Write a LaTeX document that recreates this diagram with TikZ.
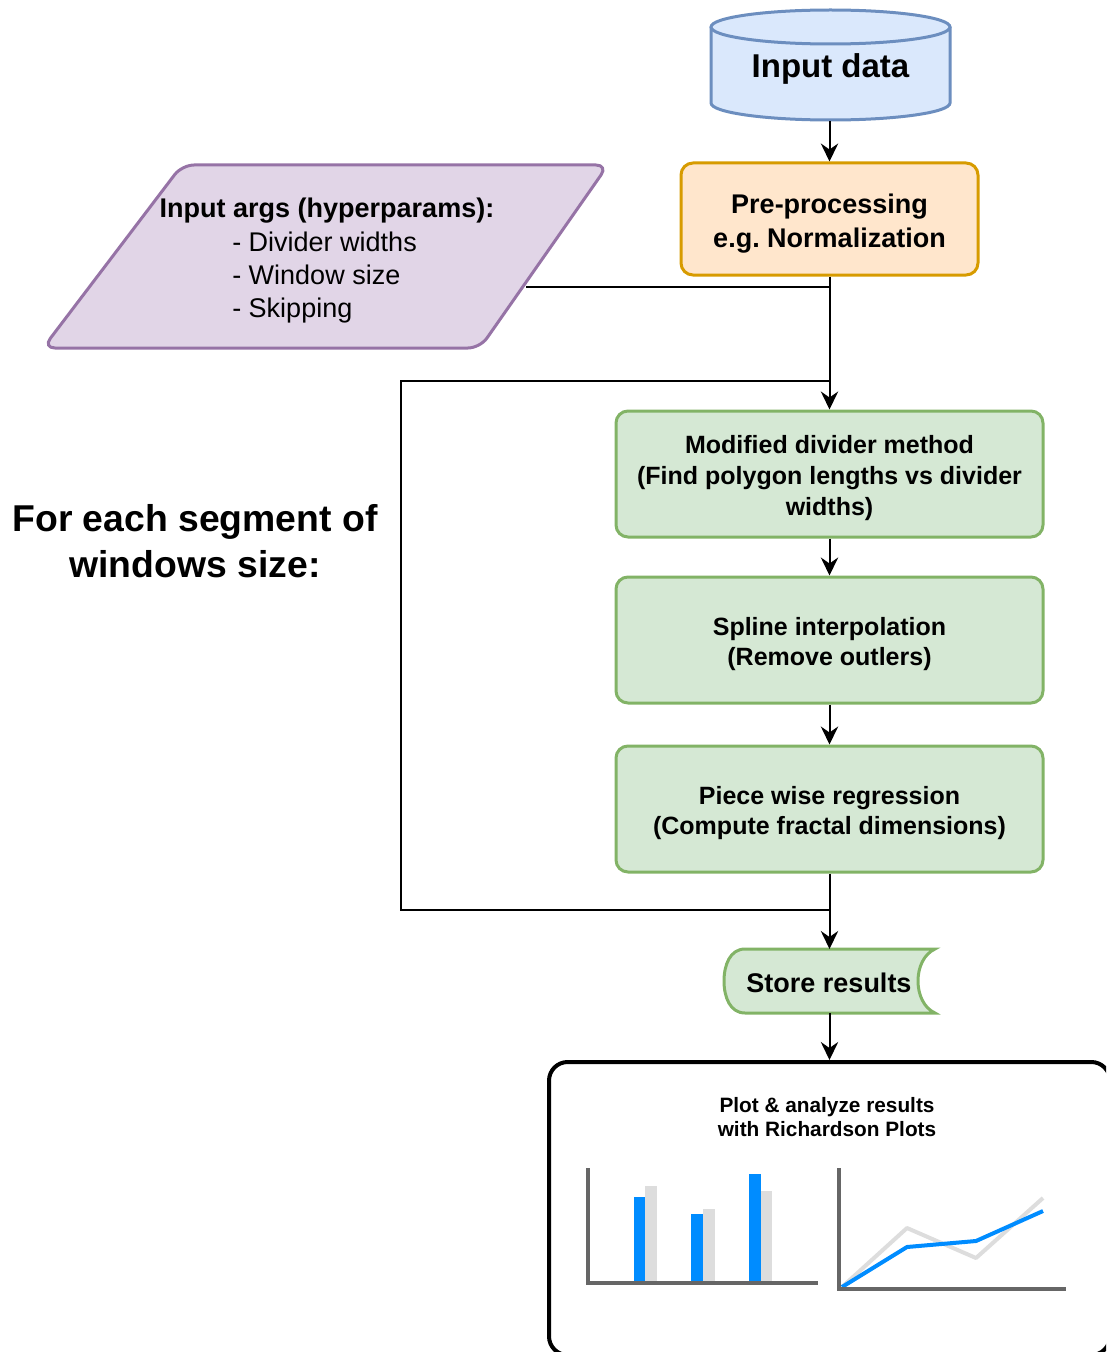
\documentclass[tikz,border=0pt]{standalone}
\usepackage{fontspec}
\setmainfont{Liberation Sans}
\usetikzlibrary{arrows.meta,fit}
\definecolor{bluefill}{HTML}{DAE8FC}
\definecolor{blueline}{HTML}{6C8EBF}
\definecolor{orgfill}{HTML}{FFE6CC}
\definecolor{orgline}{HTML}{D79B00}
\definecolor{purfill}{HTML}{E1D5E7}
\definecolor{purline}{HTML}{9673A6}
\definecolor{grnfill}{HTML}{D5E8D4}
\definecolor{grnline}{HTML}{82B366}
\definecolor{barblue}{HTML}{008CFF}
\definecolor{bargray}{HTML}{DDDDDD}
\definecolor{axisgray}{HTML}{666666}
\frenchspacing
\begin{document}
\begin{tikzpicture}[x=0.75pt,y=-0.75pt,
  conn/.style={line width=1.5pt, draw=black},
  arr/.style={conn, -{Stealth[length=13.5pt,width=13pt,inset=4.5pt]}},
  boxbase/.style={line width=2.25pt, rounded corners=9pt, inner sep=0pt},
  greenbox/.style={boxbase, draw=grnline, fill=grnfill},
  greentext/.style={align=center, font=\fontsize{18.75}{23}\selectfont\bfseries},
  prebox/.style={boxbase, draw=orgline, fill=orgfill},
  axisline/.style={draw=axisgray, line width=2.6pt},
  plotline/.style={line width=3pt, line join=round}
]
\useasboundingbox (0,0) rectangle (1106,1352);
\clip (0,0) rectangle (1106,1352);

% Cylinder: Input data
\fill[bluefill] (711,27) rectangle (950,103);
\fill[bluefill] (830.5,103) ellipse [x radius=119.5, y radius=17];
\draw[blueline, line width=2.25pt, fill=bluefill] (711,27) -- (711,103)
  .. controls (711,112.4) and (764.5,120) .. (830.5,120)
  .. controls (896.5,120) and (950,112.4) .. (950,103) -- (950,27);
\draw[blueline, line width=2.25pt, fill=bluefill] (830.5,27) ellipse [x radius=119.5, y radius=17];
\node[font=\fontsize{24.75}{30}\selectfont\bfseries] (indata) at (830.5,69) {Input data};
\coordinate (cylbot) at (829.5,121);

% Pre-processing
\node[prebox, fit={(681,163) (978,275)}] (pre) {};
\node[align=center, font=\fontsize{20.25}{25.5}\selectfont\bfseries] (pretext) at (829.5,224)
  {Pre-processing\\e.g. Normalization};

% Input args parallelogram
\draw[draw=purline, fill=purfill, line width=2.25pt, rounded corners=9pt]
  (300,348) -- (43,348) -- (182,165) -- (608,165) -- (480,348) -- cycle;
\node[font=\fontsize{20.25}{24.75}\selectfont\bfseries] (args) at (327,211)
  {Input args (hyperparams):};
\node[anchor=north west, align=left, inner sep=0pt, font=\fontsize{20.25}{24.75}\selectfont] (arglist) at (232,232)
  {- Divider widths\\- Window size\\- Skipping};
\coordinate (argsR) at (526,287);

% For each segment label
\node[align=center, font=\fontsize{28}{34.5}\selectfont\bfseries] (foreach) at (195,541)
  {For each segment of\\windows size:};

% Green process boxes
\node[greenbox, fit={(616,411) (1043,537)}] (mod) {};
\node[greentext] (modtext) at (829.5,478)
  {Modified divider method\\(Find polygon lengths vs divider\\widths)};
\node[greenbox, fit={(616,577) (1043,703)}] (spline) {};
\node[greentext] (splinetext) at (829.5,644)
  {Spline interpolation\\(Remove outlers)};
\node[greenbox, fit={(616,746) (1043,872)}] (piece) {};
\node[greentext] (piecetext) at (829.5,813)
  {Piece wise regression\\(Compute fractal dimensions)};

% Store results (stored data shape)
\draw[draw=grnline, fill=grnfill, line width=2.25pt]
  (745,949) -- (935,949)
  .. controls (924,954) and (918,967) .. (918,981)
  .. controls (918,995) and (924,1008) .. (935,1013)
  -- (745,1013)
  .. controls (730,1013) and (724,997) .. (724,981)
  .. controls (724,965) and (730,949) .. (745,949) -- cycle;
\node[font=\fontsize{20.25}{24}\selectfont\bfseries] (store) at (829,983) {Store results};
\coordinate (storeT) at (829.5,949);
\coordinate (storeB) at (829.5,1013);

% Plot box
\node[draw=black, line width=3pt, rounded corners=14pt, inner sep=0pt, fit={(549,1062) (1110,1355)}] (plot) {};
\node[align=center, font=\fontsize{15.6}{18}\selectfont\bfseries] (plottext) at (827,1117)
  {Plot \& analyze results\\with Richardson Plots};

% Bar chart
\fill[barblue] (634,1197) rectangle (645,1283);
\fill[bargray] (645,1186) rectangle (657,1283);
\fill[barblue] (691,1214) rectangle (703,1283);
\fill[bargray] (703,1209) rectangle (715,1283);
\fill[barblue] (749,1174) rectangle (761,1283);
\fill[bargray] (761,1191) rectangle (772,1283);
\draw[axisline] (588,1168) -- (588,1283) -- (818,1283);

% Line chart
\draw[plotline, bargray] (842,1287) -- (907,1228) -- (976,1258) -- (1043,1198);
\draw[plotline, barblue] (842,1287) -- (907,1247) -- (976,1241) -- (1043,1211);
\draw[axisline] (839,1168) -- (839,1289) -- (1066,1289);

% Connectors
\coordinate (junc) at (pre.south |- argsR);
\coordinate (loopT) at (mod.north |- 0,381);
\coordinate (loopB) at (piece.south |- 0,910);
\draw[arr] (cylbot) -- (pre.north);
\draw[conn] (argsR) -- (junc);
\draw[arr] (pre.south) -- (mod.north);
\draw[arr] (mod.south) -- (spline.north);
\draw[arr] (spline.south) -- (piece.north);
\draw[arr] (piece.south) -- (storeT);
\draw[conn] (loopB) -- (401,910) -- (401,381) -- (loopT);
\draw[arr] (storeB) -- (plot.north);
\end{tikzpicture}
\end{document}
